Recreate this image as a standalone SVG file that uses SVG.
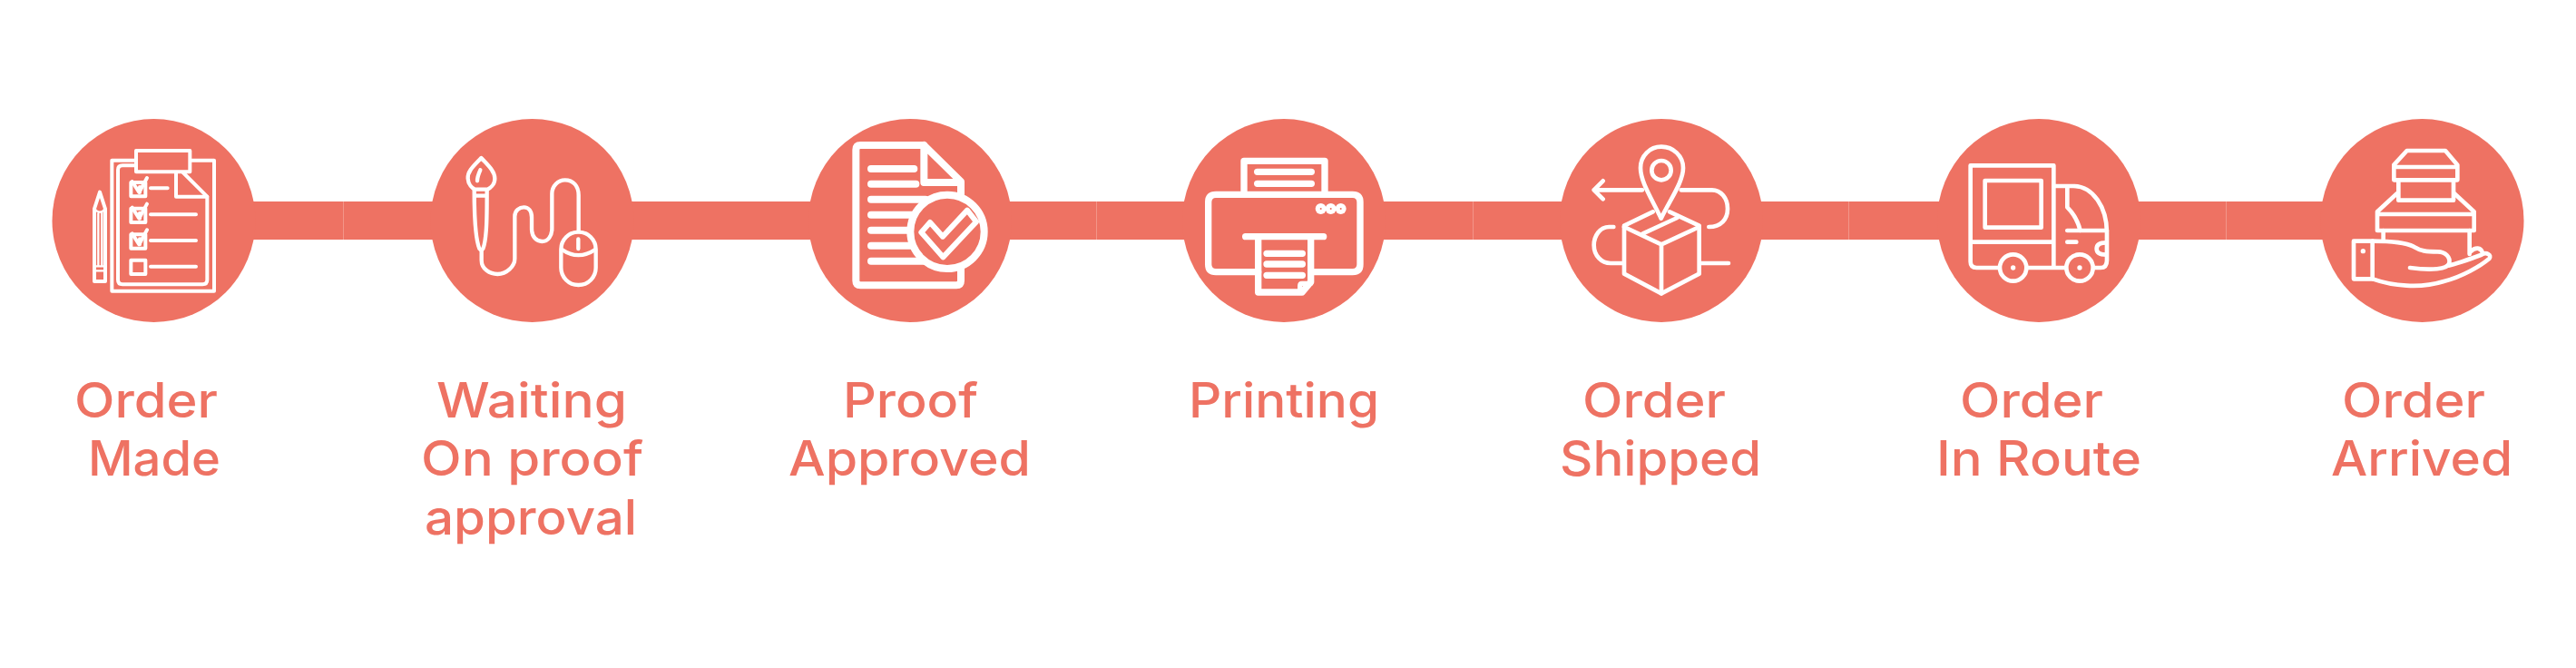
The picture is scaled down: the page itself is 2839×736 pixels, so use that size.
<svg xmlns="http://www.w3.org/2000/svg" width="2839" height="736" viewBox="0 0 2839 736">
<style>
.bar{fill:#ee7263}
.disc{fill:#ee7263}
.lbl{font-family:"Inter","Liberation Sans",sans-serif;font-size:53px;font-weight:500;fill:#ee7263}
.ic{fill:none;stroke:#fff;stroke-linecap:round;stroke-linejoin:round}
.ic .w{fill:#fff;stroke:none}
.ic .c{fill:#ee7263;stroke:none}
.ic .f{fill:#ee7263}
</style>
<rect width="2839" height="736" fill="#fff"/>
<g id="connectors">
<rect class="bar" x="270" y="222" width="108.500" height="42"/>
<rect class="bar" x="378.500" y="222" width="107.500" height="42"/>
<rect class="bar" x="686" y="222" width="215" height="42"/>
<rect class="bar" x="1103" y="222" width="105.500" height="42"/>
<rect class="bar" x="1208.500" y="222" width="106.500" height="42"/>
<rect class="bar" x="1515" y="222" width="108.500" height="42"/>
<rect class="bar" x="1623.500" y="222" width="107" height="42"/>
<rect class="bar" x="1931" y="222" width="106.500" height="42"/>
<rect class="bar" x="2037.500" y="222" width="109.500" height="42"/>
<rect class="bar" x="2347" y="222" width="106.500" height="42"/>
<rect class="bar" x="2453.500" y="222" width="115.500" height="42"/>
</g>
<g id="node-order-made">
<circle class="disc" cx="169.500" cy="243" r="112"/>
<g class="ic" stroke-width="12" transform="translate(80 150) scale(.33333)">
<path d="M210 80H130V512H468V80H388"/>
<rect class="f" x="210" y="48" width="178" height="70"/>
<path d="M210 97H165Q150 97 150 112V475Q150 490 165 490H430Q445 490 445 475V200L365 120"/>
<path d="M342 120V200H445"/>
<rect x="193" y="153" width="48" height="46"/><path d="M197 150 220 186 246 138M222 186V168"/>
<rect x="193" y="239" width="48" height="46"/><path d="M197 236 220 272 246 224M222 272V254"/>
<rect x="193" y="325" width="48" height="46"/><path d="M197 322 220 358 246 310M222 358V340"/>
<rect x="193" y="410" width="48" height="46"/>
<path d="M258 172H314M258 259H408M258 345H408M258 431H408"/>
<path d="M72 240 90 185 108 240V480H72Z"/>
<path d="M72 240Q90 262 108 240M85 250V430M97 250V430M72 430H108M72 445H108" stroke-width="7"/>
</g>
</g>
<g id="node-waiting">
<circle class="disc" cx="586.500" cy="243" r="112"/>
<g class="ic" stroke-width="13" transform="translate(500 150) scale(.33333)">
<path d="M91 72C70 95 45 115 47 140C48 160 62 172 70 176H112C120 172 136 160 136 140C136 115 112 95 91 72Z"/>
<path d="M88 112C82 125 78 135 78 148"/>
<path d="M68 178C68 260 72 340 85 372Q91 380 97 372C110 340 110 260 110 178M70 197H110"/>
<path d="M92 378V410C92 440 120 456 145 456C175 456 202 430 202 405V265C202 245 218 235 232 235C248 235 258 248 258 268V305C258 335 275 348 292 348C312 348 325 330 325 305V190C325 165 345 145 368 145C395 145 413 165 413 195V315"/>
<rect x="355" y="317" width="115" height="175" rx="57" ry="57"/>
<path d="M412 340V372M358 375Q412 412 468 375"/>
</g>
</g>
<g id="node-proof-approved">
<circle class="disc" cx="1003" cy="243" r="112"/>
<g class="ic" stroke-width="24" transform="translate(920 150) scale(.33333)">
<path d="M295 30H85Q70 30 70 45V478Q70 493 85 493H402Q417 493 417 478V150L295 30V153H417"/>
<path d="M120 108H262M120 158H268M120 209H300M120 260H300M120 311H300M120 362H300M120 413H300"/>
<circle class="f" cx="372" cy="316" r="122"/>
<path d="M286 318 315 285 357 332 438 245 468 283 358 400Z" stroke-width="18"/>
</g>
</g>
<g id="node-printing">
<circle class="disc" cx="1415" cy="243" r="112"/>
<g class="ic" stroke-width="22" transform="translate(1320 150) scale(.33333)">
<path d="M200 449H60Q35 449 35 424V218Q35 193 60 193H512Q537 193 537 218V424Q537 449 512 449H380"/>
<path d="M153 193V82H420V193"/>
<path d="M197 118H376M197 157H376M158 332H416"/>
<path d="M200 340V516H345L374 482V340"/>
<path d="M374 487H345Q338 487 338 495V510" stroke-width="16"/>
<path d="M228 388H346M228 423H346M228 460H346"/>
<circle class="w" cx="407" cy="240" r="18"/><circle class="w" cx="440" cy="240" r="18"/><circle class="w" cx="473" cy="240" r="18"/>
<circle class="c" cx="407" cy="240" r="3"/><circle class="c" cx="440" cy="240" r="3"/><circle class="c" cx="473" cy="240" r="3"/>
</g>
</g>
<g id="node-order-shipped">
<circle class="disc" cx="1831" cy="243" r="112"/>
<g class="ic" stroke-width="14" transform="translate(1740 150) scale(.33333)">
<path d="M50 178H210M80 148 50 178 80 208M338 178H440C470 178 492 205 492 240C492 275 470 300 430 300"/>
<path d="M115 300H100C70 300 50 330 50 360C50 395 75 420 105 420H145M405 420H495"/>
<path d="M245 250 150 296V455L273 520 398 455V296L300 250"/>
<path d="M150 300 273 358 398 300M273 358V520M212 322 325 270"/>
<path d="M272 272C240 205 204 150 204 105C204 65 235 35 273 35C312 35 345 65 345 105C345 150 305 205 272 272Z"/>
<circle cx="273" cy="113" r="32"/>
</g>
</g>
<g id="node-order-in-route">
<circle class="disc" cx="2247" cy="243" r="112"/>
<g class="ic" stroke-width="14" transform="translate(2150 150) scale(.33333)">
<path d="M340 97H65V415Q65 435 85 435H385M340 97V435M65 350H340"/>
<rect x="113" y="147" width="186" height="155"/>
<path d="M340 165H405C470 165 516 235 516 320V410Q516 435 495 435H470"/>
<path d="M385 170V235C405 255 420 280 428 312M385 312H516M385 350H415"/>
<path d="M514 352Q482 352 482 372Q482 392 514 392"/>
<circle class="f" cx="206" cy="435" r="44"/><circle class="f" cx="426" cy="435" r="44"/>
<circle class="w" cx="206" cy="435" r="8"/><circle class="w" cx="426" cy="435" r="8"/>
</g>
</g>
<g id="node-order-arrived">
<circle class="disc" cx="2669.500" cy="243" r="112"/>
<g class="ic" stroke-width="14" transform="translate(2580 150) scale(.33333)">
<path d="M218 48H345L385 95V145H175V95ZM180 102H385"/>
<path d="M190 145V212H372V145"/>
<path d="M185 190 120 250V312H440V250L375 190M120 258H440"/>
<path d="M140 312V345M425 312V390"/>
<rect x="42" y="347" width="62" height="125"/>
<circle class="w" cx="73" cy="380" r="8"/>
<path d="M105 347C160 347 210 350 240 365C265 380 280 382 320 382C345 382 362 400 358 420C352 440 300 445 228 435"/>
<path d="M105 472C170 495 260 505 340 480C400 465 460 430 490 405C500 392 480 382 465 392C430 405 390 420 355 428"/>
<path d="M428 382C445 365 462 368 468 385"/>
</g>
</g>
<g id="labels">
<text class="lbl" x="82" y="460" textLength="158" lengthAdjust="spacingAndGlyphs">Order</text>
<text class="lbl" x="97" y="524" textLength="146" lengthAdjust="spacingAndGlyphs">Made</text>
<text class="lbl" x="481" y="460" textLength="210" lengthAdjust="spacingAndGlyphs">Waiting</text>
<text class="lbl" x="464" y="524" textLength="245" lengthAdjust="spacingAndGlyphs">On proof</text>
<text class="lbl" x="468" y="589" textLength="234" lengthAdjust="spacingAndGlyphs">approval</text>
<text class="lbl" x="929" y="460" textLength="149" lengthAdjust="spacingAndGlyphs">Proof</text>
<text class="lbl" x="869" y="524" textLength="267" lengthAdjust="spacingAndGlyphs">Approved</text>
<text class="lbl" x="1310" y="460" textLength="210" lengthAdjust="spacingAndGlyphs">Printing</text>
<text class="lbl" x="1744" y="460" textLength="158" lengthAdjust="spacingAndGlyphs">Order</text>
<text class="lbl" x="1719" y="524" textLength="222" lengthAdjust="spacingAndGlyphs">Shipped</text>
<text class="lbl" x="2160" y="460" textLength="158" lengthAdjust="spacingAndGlyphs">Order</text>
<text class="lbl" x="2134" y="524" textLength="226" lengthAdjust="spacingAndGlyphs">In Route</text>
<text class="lbl" x="2581" y="460" textLength="158" lengthAdjust="spacingAndGlyphs">Order</text>
<text class="lbl" x="2569" y="524" textLength="200" lengthAdjust="spacingAndGlyphs">Arrived</text>
</g>
</svg>
